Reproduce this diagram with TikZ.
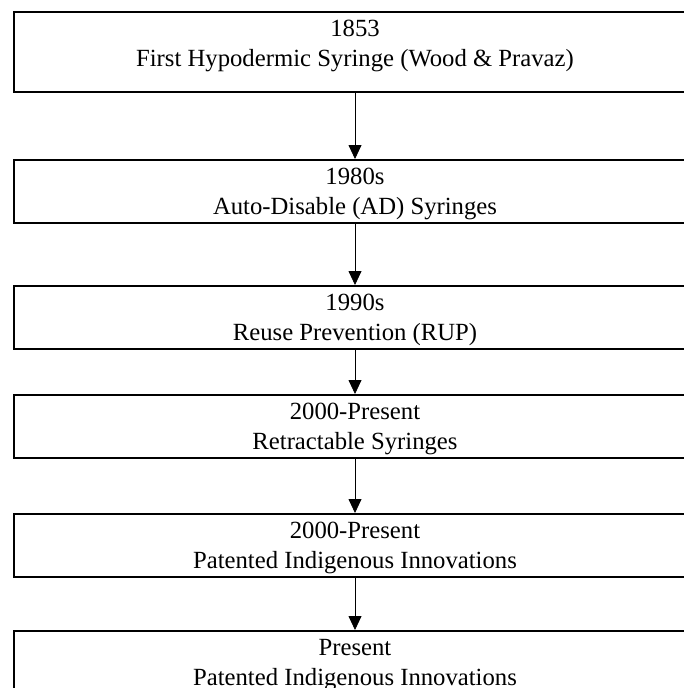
\documentclass[tikz,border=0pt]{standalone}
\usepackage{fontspec}
\setmainfont{Liberation Serif}
\usepackage{tikz}
\usetikzlibrary{arrows.meta,positioning}
\tikzset{
    %Define standard arrow tip
    >={Triangle[length=14pt,width=13pt]},
    %Define style for boxes
    era/.style={
           draw,
           line width=2pt,
           minimum width=682pt,
           inner xsep=0pt,
           inner ysep=0pt,
           align=center,
           text height=54pt,
           text depth=9pt,
           font=\fontsize{24.7}{30}\selectfont},
    % Define arrow style
    pil/.style={
           ->,
           line width=0.8pt}
}

\begin{document}
\begin{tikzpicture}
	\useasboundingbox (0,0) rectangle (683pt,-688pt);

	% Timeline boxes
	\node[era, anchor=north, text depth=26pt] (first) at (355pt,-11pt) {1853\\First Hypodermic Syringe (Wood \& Pravaz)};
	\node[era, below=66pt of first](autodis){1980s\\Auto-Disable (AD) Syringes};
	\node[era, below=61pt of autodis](reuse){1990s\\Reuse Prevention (RUP)};
	\node[era, below=44pt of reuse](retract){2000-Present\\Retractable Syringes};
	\node[era, below=54pt of retract](indig){2000-Present\\Patented Indigenous Innovations};
	\node[era, below=52pt of indig](present){Present\\Patented Indigenous Innovations};

	\path[pil] (first)   edge (autodis)
	           (autodis) edge (reuse)
	           (reuse)   edge (retract)
	           (retract) edge (indig)
	           (indig)   edge (present);
\end{tikzpicture}
\end{document}
